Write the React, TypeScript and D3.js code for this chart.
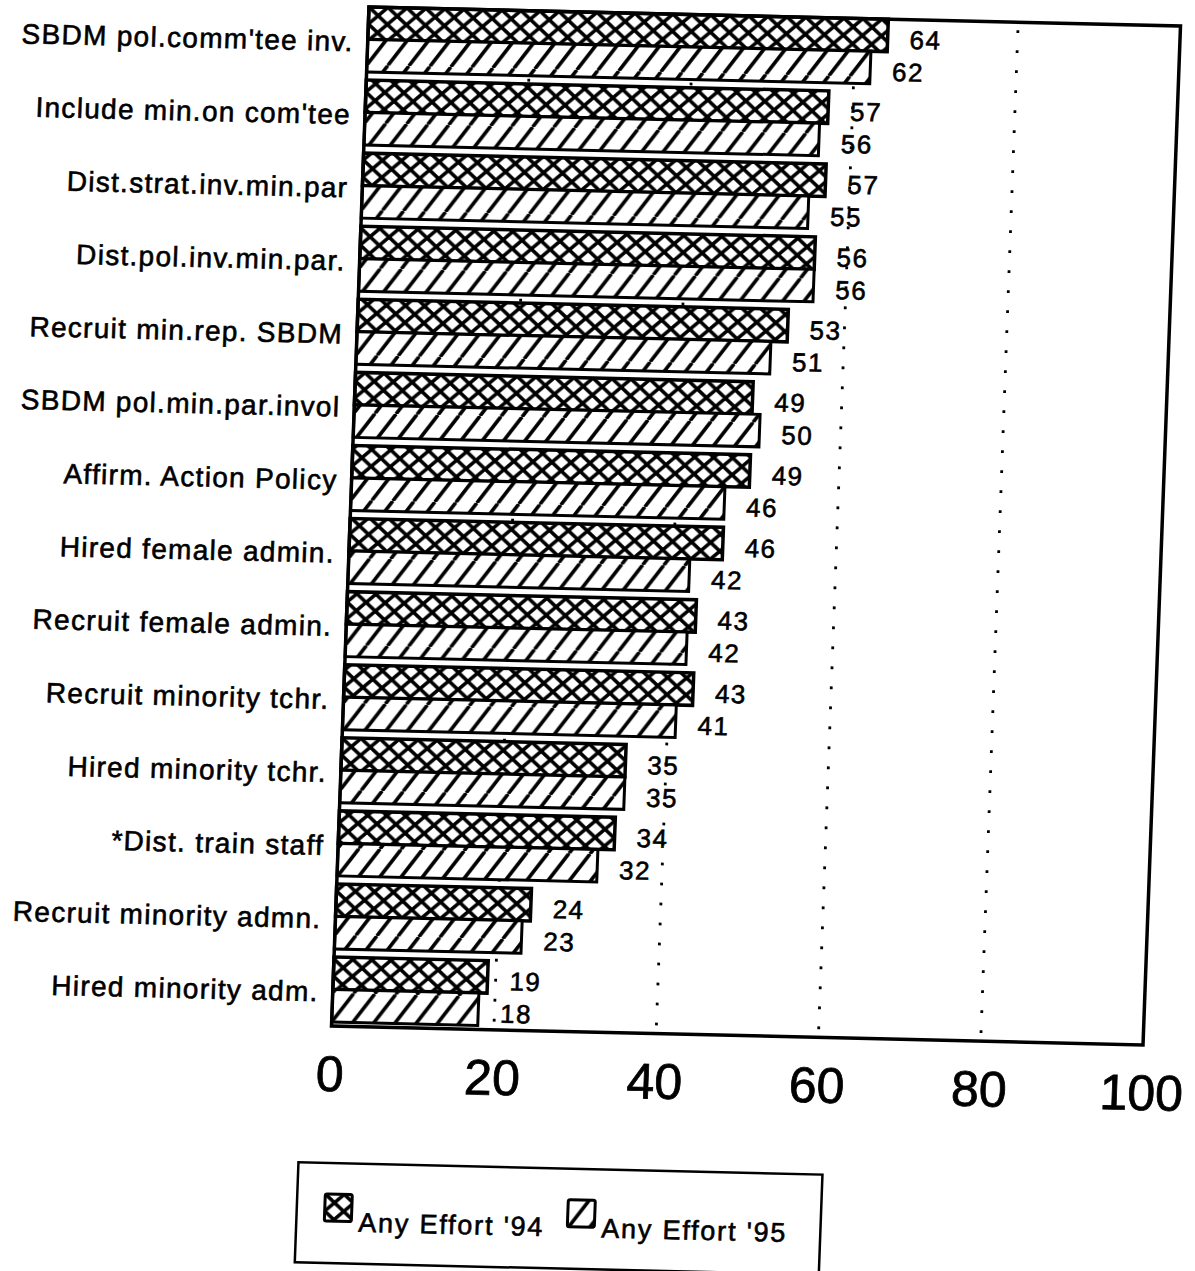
import React, { useEffect, useRef } from 'react'
import * as d3 from 'd3'

const categories = [
    "SBDM pol.comm'tee inv.",
    "Include min.on com'tee",
    "Dist.strat.inv.min.par",
    "Dist.pol.inv.min.par.",
    "Recruit min.rep. SBDM",
    "SBDM pol.min.par.invol",
    "Affirm. Action Policy",
    "Hired female admin.",
    "Recruit female admin.",
    "Recruit minority tchr.",
    "Hired minority tchr.",
    "*Dist. train staff",
    "Recruit minority admn.",
    "Hired minority adm.",
]
const effort94 = [64, 57, 57, 56, 53, 49, 49, 46, 43, 43, 35, 34, 24, 19]
const effort95 = [62, 56, 55, 56, 51, 50, 46, 42, 42, 41, 35, 32, 23, 18]
const xTicks = [0, 20, 40, 60, 80, 100]
const gridTicks = [20, 40, 60, 80]
const seriesNames = ["Any Effort '94", "Any Effort '95"]

const FONT = "'Liberation Sans', Arial, Helvetica, sans-serif"

export default function App() {
    const ref = useRef<SVGSVGElement | null>(null)

    const width = 1195
    const height = 1271
    const plotW = 811.5
    const plotH = 1019

    function draw() {
        const svg = d3.select(ref.current)
        svg.selectAll('*').remove()

        const defs = svg.append('defs')

        // crosshatch (diamond lattice)
        const cw = 19, ch = 17
        const cross = defs.append('pattern')
            .attr('id', 'cross')
            .attr('patternUnits', 'userSpaceOnUse')
            .attr('width', cw)
            .attr('height', ch)
        cross.append('rect').attr('width', cw).attr('height', ch).attr('fill', '#fff')
        cross.append('path')
            .attr('d', `M0,0L${cw},${ch}M0,${ch}L${cw},0M${-cw / 2},${ch / 2}L0,${ch}M${cw / 2},${-ch / 2}L${cw * 1.5},${ch / 2}M${-cw / 2},${ch / 2}L0,0M${cw / 2},${ch * 1.5}L${cw * 1.5},${ch / 2}`)
            .attr('stroke', '#000')
            .attr('stroke-width', 3.6)

        // diagonal hatch
        const hw = 21, hh = 29
        const hatch = defs.append('pattern')
            .attr('id', 'hatch')
            .attr('patternUnits', 'userSpaceOnUse')
            .attr('width', hw)
            .attr('height', hh)
        hatch.append('rect').attr('width', hw).attr('height', hh).attr('fill', '#fff')
        hatch.append('path')
            .attr('d', `M0,${hh}L${hw},0M${-hw},${hh}L0,0M${hw},${hh}L${2 * hw},0`)
            .attr('stroke', '#000')
            .attr('stroke-width', 3.6)

        svg.append('rect').attr('width', width).attr('height', height).attr('fill', '#fff')

        // the page is scanned slightly askew
        const g = svg.append('g')
            .attr('transform', 'matrix(1,0.0234,-0.0368,1,369,7)')

        const x = d3.scaleLinear().domain([0, 100]).range([0, plotW])
        const y = d3.scaleBand<string>()
            .domain(categories)
            .range([0, 1015])
            .paddingInner(0.111)
            .paddingOuter(0)
            .align(0)
        const barH = y.bandwidth() / 2

        // dotted grid, behind the bars
        g.selectAll('line.grid')
            .data(gridTicks)
            .enter().append('line')
            .attr('class', 'grid')
            .attr('x1', d => x(d))
            .attr('x2', d => x(d))
            .attr('y1', 8)
            .attr('y2', plotH)
            .attr('stroke', '#000')
            .attr('stroke-width', 2.8)
            .attr('stroke-dasharray', '2.8 17.2')

        const rows = categories.map((c, i) => ({ c, v94: effort94[i], v95: effort95[i] }))

        const grp = g.selectAll('g.row')
            .data(rows)
            .enter().append('g')
            .attr('class', 'row')

        grp.append('rect')
            .attr('x', 0)
            .attr('y', d => y(d.c)!)
            .attr('width', d => x(d.v94))
            .attr('height', barH)
            .attr('fill', 'url(#cross)')
            .attr('stroke', '#000')
            .attr('stroke-width', 3.5)

        grp.append('rect')
            .attr('x', 0)
            .attr('y', d => y(d.c)! + barH)
            .attr('width', d => x(d.v95))
            .attr('height', barH)
            .attr('fill', 'url(#hatch)')
            .attr('stroke', '#000')
            .attr('stroke-width', 3)

        // scanned print looks heavier than the plain font
        const ink = (sel: any, size: number, spacing: number) => sel
            .attr('font-family', FONT)
            .attr('font-size', size)
            .attr('letter-spacing', spacing)
            .attr('fill', '#000')
            .attr('stroke', '#000')
            .attr('stroke-width', 0.6)

        grp.append('text')
            .call(ink, 26, 1.5)
            .attr('x', d => x(d.v94) + 22)
            .attr('y', d => y(d.c)! + barH / 2 + 13)
            .text(d => d.v94)

        grp.append('text')
            .call(ink, 26, 1.5)
            .attr('x', d => x(d.v95) + 22)
            .attr('y', d => y(d.c)! + barH * 1.5 + 13)
            .text(d => d.v95)

        grp.append('text')
            .call(ink, 28, 1.3)
            .attr('text-anchor', 'end')
            .attr('x', -14)
            .attr('y', d => y(d.c)! + barH + 12)
            .text(d => d.c)

        // frame
        g.append('rect')
            .attr('x', 0)
            .attr('y', 0)
            .attr('width', plotW)
            .attr('height', plotH)
            .attr('fill', 'none')
            .attr('stroke', '#000')
            .attr('stroke-width', 3.5)

        g.selectAll('text.tick')
            .data(xTicks)
            .enter().append('text')
            .attr('class', 'tick')
            .call(ink, 50, 0)
            .attr('stroke-width', 0.8)
            .attr('text-anchor', 'middle')
            .attr('x', d => x(d))
            .attr('y', plotH + 65)
            .text(d => d)

        // legend
        const lg = g.append('g').attr('transform', 'translate(-28,1156)')
        lg.append('rect')
            .attr('width', 524)
            .attr('height', 100)
            .attr('fill', 'none')
            .attr('stroke', '#000')
            .attr('stroke-width', 2.5)
        const items = [
            { name: seriesNames[0], fill: 'url(#cross)', x: 28 },
            { name: seriesNames[1], fill: 'url(#hatch)', x: 271 },
        ]
        const li = lg.selectAll('g.item')
            .data(items)
            .enter().append('g')
            .attr('class', 'item')
            .attr('transform', d => `translate(${d.x},31)`)
        li.append('rect')
            .attr('width', 27)
            .attr('height', 27)
            .attr('rx', 2)
            .attr('fill', d => d.fill)
            .attr('stroke', '#000')
            .attr('stroke-width', 3)
        li.append('text')
            .call(ink, 27, 1.8)
            .attr('x', 34)
            .attr('y', 37)
            .text(d => d.name)
    }

    useEffect(() => {
        draw()
    }, [])

    return (
        <svg ref={ref} width={width} height={height}
            style={{ position: 'absolute', left: 0, top: 0, display: 'block' }} />
    )
}
